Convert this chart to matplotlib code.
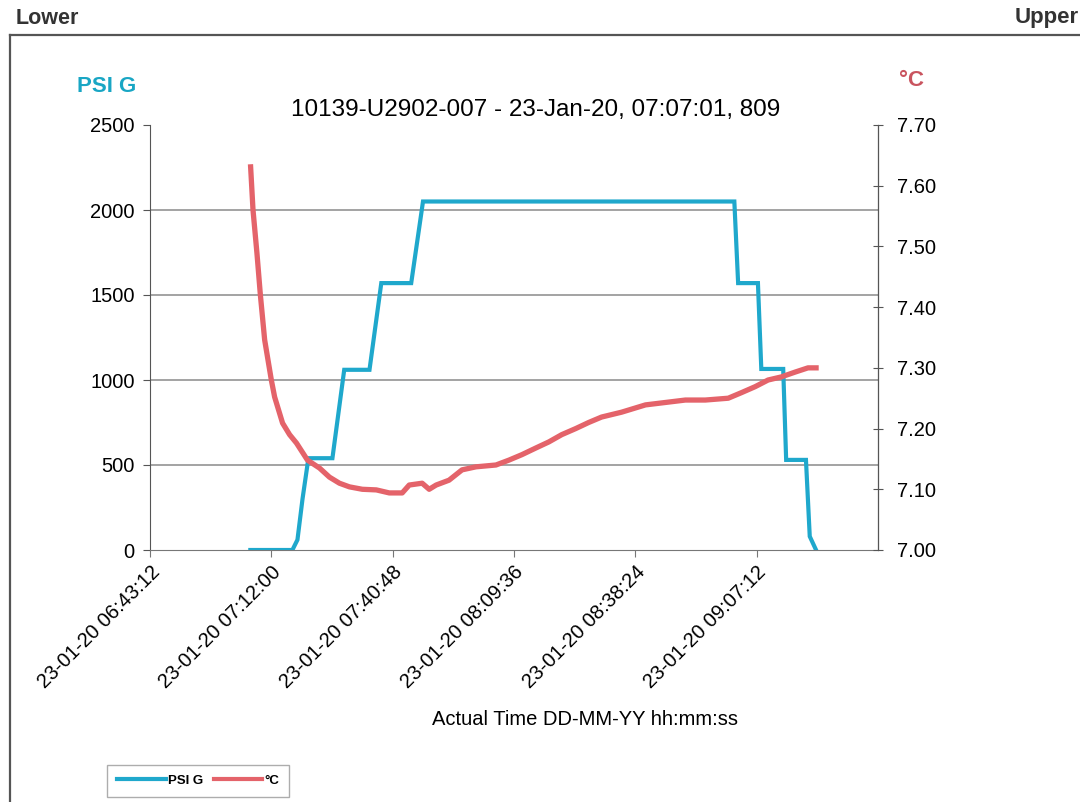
import matplotlib
matplotlib.use("Agg")
import matplotlib.pyplot as plt
from matplotlib.lines import Line2D
from datetime import datetime

plt.rcParams['font.family'] = ['Liberation Sans', 'DejaVu Sans']

DAY = "2020-01-23 "

# ---- data ----
psi_times = ["07:07:01", "07:17:00", "07:18:12", "07:19:24", "07:20:48", "07:26:30",
             "07:29:18", "07:35:18", "07:38:06", "07:45:12", "07:48:00", "09:01:54",
             "09:02:48", "09:07:30", "09:08:18", "09:13:30", "09:14:12", "09:18:54",
             "09:19:48", "09:21:18"]
psi_values = [0, 0, 60, 300, 540, 540,
              1060, 1060, 1570, 1570, 2050, 2050,
              1570, 1570, 1065, 1065, 530, 530,
              80, 0]

temp_times = ["07:07:05", "07:07:39", "07:08:35", "07:09:24", "07:10:25", "07:12:00",
              "07:12:47", "07:14:40", "07:16:20", "07:17:59", "07:20:35", "07:23:26",
              "07:25:48", "07:28:10", "07:30:32", "07:33:36", "07:36:55", "07:40:00",
              "07:43:04", "07:44:44", "07:47:48", "07:49:28", "07:51:07", "07:54:11",
              "07:57:16", "08:00:35", "08:05:19", "08:08:23", "08:11:28", "08:14:47",
              "08:17:52", "08:20:56", "08:24:15", "08:27:19", "08:30:24", "08:35:08",
              "08:40:49", "08:50:17", "08:55:01", "09:00:27", "09:03:32", "09:06:50",
              "09:09:55", "09:13:00", "09:16:19", "09:19:23", "09:21:18"]
temp_values = [7.631, 7.560, 7.489, 7.420, 7.346, 7.280,
               7.252, 7.209, 7.190, 7.176, 7.148, 7.135,
               7.120, 7.110, 7.104, 7.100, 7.099, 7.094,
               7.094, 7.107, 7.110, 7.100, 7.107, 7.115,
               7.132, 7.137, 7.140, 7.148, 7.157, 7.168,
               7.178, 7.190, 7.200, 7.210, 7.219, 7.227,
               7.239, 7.247, 7.247, 7.250, 7.259, 7.269,
               7.280, 7.285, 7.293, 7.300, 7.300]

xtick_times = ["06:43:12", "07:12:00", "07:40:48", "08:09:36", "08:38:24", "09:07:12"]
xtick_labels = ["23-01-20 06:43:12", "23-01-20 07:12:00", "23-01-20 07:40:48",
                "23-01-20 08:09:36", "23-01-20 08:38:24", "23-01-20 09:07:12"]
x_range = ["06:43:12", "09:36:00"]

psi_ticks = [0, 500, 1000, 1500, 2000, 2500]
temp_ticks = [7.00, 7.10, 7.20, 7.30, 7.40, 7.50, 7.60, 7.70]

title = "10139-U2902-007 - 23-Jan-20, 07:07:01, 809"

def T(s):
    return datetime.strptime(DAY + s, "%Y-%m-%d %H:%M:%S")

BLUE = "#1fa8cc"
RED = "#e4636a"
BLUE_TXT = "#19a6c4"
RED_TXT = "#c9545f"
GRID = "#8a8a8a"

fig = plt.figure(figsize=(10.8, 8.02), dpi=100)
ax = fig.add_axes([150/1080, 1-550/802, (878-150)/1080, (550-125)/802])
ax2 = ax.twinx()

ax.plot([T(t) for t in psi_times], psi_values, color=BLUE, lw=3.0, zorder=3,
        solid_joinstyle='miter', label="PSI G")
ax2.plot([T(t) for t in temp_times], temp_values, color=RED, lw=3.8, zorder=3,
         label="°C")

ax.set_xlim(T(x_range[0]), T(x_range[1]))
ax.set_ylim(psi_ticks[0], psi_ticks[-1])
ax2.set_ylim(temp_ticks[0], temp_ticks[-1])

ax.set_yticks(psi_ticks)
ax.set_yticklabels([str(v) for v in psi_ticks])
ax2.set_yticks(temp_ticks)
ax2.set_yticklabels([f"{v:.2f}" for v in temp_ticks])
ax.set_xticks([T(t) for t in xtick_times])
ax.set_xticklabels(xtick_labels, rotation=45, ha='right', rotation_mode='anchor')

for g in psi_ticks[1:-1]:
    ax.axhline(g, color=GRID, lw=1.1, zorder=1)

for a in (ax, ax2):
    a.spines['top'].set_visible(False)
    a.set_facecolor('none')
ax.spines['left'].set_color('#555555')
ax.spines['bottom'].set_color('#777777')
ax2.spines['right'].set_color('#555555')
ax2.spines['left'].set_visible(False)
ax2.spines['bottom'].set_visible(False)

ax.tick_params(axis='y', labelsize=14.5, length=5, direction='out', color='#555555', pad=6)
ax.tick_params(axis='x', labelsize=14.5, length=5, direction='out', color='#777777', pad=4)
ax2.tick_params(axis='y', labelsize=14.5, length=7, direction='inout', color='#555555', pad=10)

ax.set_xlabel("Actual Time DD-MM-YY hh:mm:ss", fontsize=14.5)
ax.xaxis.set_label_coords((585-150)/(878-150), -0.376)

fig.text(536/1080, 1-110/802, title, fontsize=17.5, ha='center', va='center')
fig.text(107/1080, 1-86/802, "PSI G", fontsize=16, fontweight='bold', color=BLUE_TXT,
         ha='center', va='center')
fig.text(912/1080, 1-80/802, "°C", fontsize=16, fontweight='bold', color=RED_TXT,
         ha='center', va='center')
fig.text(16/1080, 1-18/802, "Lower", fontsize=15.5, fontweight='bold', color='#333333',
         ha='left', va='center')
fig.text(1015/1080, 1-18/802, "Upper", fontsize=16, fontweight='bold', color='#333333',
         ha='left', va='center')

# outer frame
fig.add_artist(Line2D([10/1080, 10/1080], [0, 1-35/802], transform=fig.transFigure,
                      color='#555555', lw=1.6))
fig.add_artist(Line2D([10/1080, 1.0], [1-35/802, 1-35/802], transform=fig.transFigure,
                      color='#555555', lw=1.6))

h1, l1 = ax.get_legend_handles_labels()
h2, l2 = ax2.get_legend_handles_labels()
leg = fig.legend(h1 + h2, l1 + l2, loc='lower left', bbox_to_anchor=(107/1080, 5/802),
                 ncol=2, prop={'size': 9.5, 'weight': 'bold'}, handlelength=3.7,
                 handletextpad=0.15, columnspacing=0.8, fancybox=False,
                 edgecolor='#999999', borderpad=0.75, frameon=True,
                 borderaxespad=0.0)
for line in leg.get_lines():
    line.set_linewidth(3.0)

fig.savefig("out.png", dpi=100)
